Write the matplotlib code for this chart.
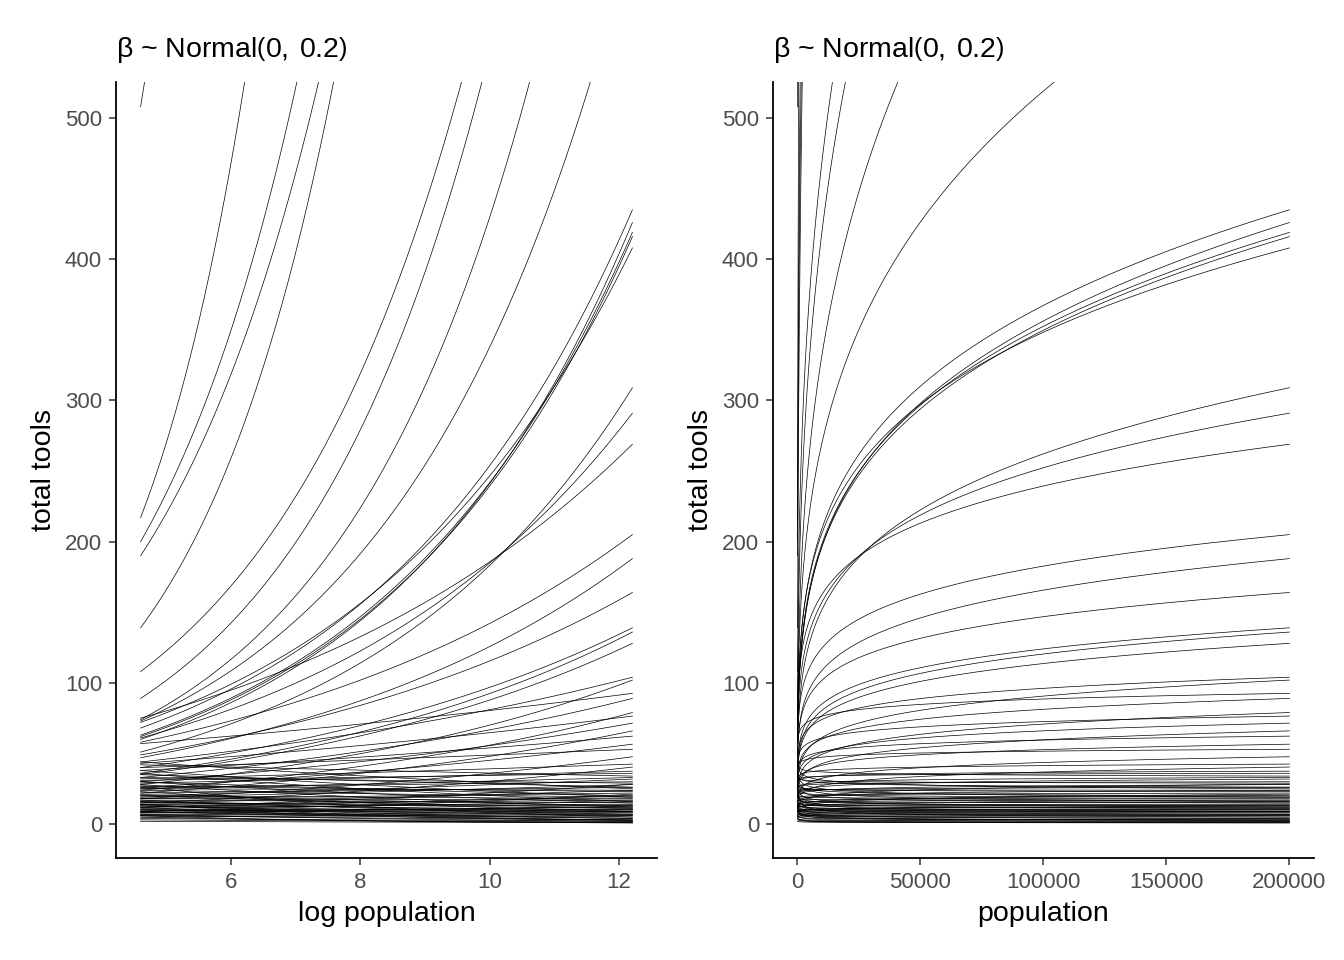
import numpy as np
import matplotlib
matplotlib.use("Agg")
import matplotlib.pyplot as plt

plt.rcParams['font.family'] = ['Liberation Sans', 'DejaVu Sans']
plt.rcParams['mathtext.fontset'] = 'custom'
plt.rcParams['mathtext.rm'] = 'Liberation Sans'

# Prior predictive curves: lambda = exp(a + b * log_pop)
# each curve given by expected total tools at log pop = log(100) and log pop = log(200000)
log_pop_min = np.log(100)
log_pop_max = np.log(200000)

tools_at_min = [508, 217, 200, 190, 139, 108, 89, 74, 73,
                68, 60, 63, 62, 72,
                51, 61, 75,
                58, 47, 49, 40, 36,
                35, 44, 28, 57, 33, 24, 43, 30, 22, 38, 26, 40, 18, 32, 15, 29,
                42, 20, 12, 35, 25, 9, 38, 14, 30, 8, 20, 16, 10, 27, 14, 6,
                12, 10, 8, 15, 18, 6, 4, 9, 13, 11, 7, 5, 16, 20, 22, 14, 3, 10,
                12, 8, 17, 19, 24, 25, 21, 6, 9, 13, 2, 11, 15, 27, 30, 33, 36,
                26, 23, 14, 7, 17, 28, 5, 31, 12, 18, 44]
tools_at_max = [33200, 14200, 4180, 3160, 4120, 1220, 1150, 882, 632,
                435, 426, 419, 416, 408,
                309, 291, 269,
                205, 188, 164, 139, 136,
                128, 104, 102, 92.6, 89, 79, 76.5, 71.5, 66, 62.3, 56.6, 53,
                47.7, 42.5, 40.4, 37.5, 34, 31.9, 28.3, 26.2, 24, 21.2, 19.1,
                17, 14.9, 12.7, 11.3, 8.5, 7, 5, 2.8, 0.8,
                14, 9, 6, 13, 22, 3, 2, 12, 8, 16, 5, 7, 11, 18, 26, 10, 1.5, 4,
                20, 10, 15, 28, 19, 33, 13, 9, 3, 6, 1, 11, 24, 23, 20, 29, 16,
                30, 9, 4, 2, 7, 12, 1, 36, 2.5, 17, 25]

y_ticks = [0, 100, 200, 300, 400, 500]
x_ticks_left = [6, 8, 10, 12]
x_ticks_right = [0, 50000, 100000, 150000, 200000]
title_text = r"β ~ Normal$\left(\mathrm{0,\,0.2}\right)$"

s = np.array(tools_at_min, dtype=float)
e = np.array(tools_at_max, dtype=float)
b = np.log(e / s) / (log_pop_max - log_pop_min)
a = np.log(s) - b * log_pop_min
x_seq = np.linspace(log_pop_min, log_pop_max, 400)

fig = plt.figure(figsize=(13.44, 9.6), dpi=100)
axL = fig.add_axes([116/1344, 1-858/960, 541/1344, 776/960])
axR = fig.add_axes([773/1344, 1-858/960, 541/1344, 776/960])

for ai, bi in zip(a, b):
    lam = np.exp(ai + bi * x_seq)
    axL.plot(x_seq, lam, color='black', lw=0.5)
    axR.plot(np.exp(x_seq), lam, color='black', lw=0.5)

def style(ax):
    for sp in ['top', 'right']:
        ax.spines[sp].set_visible(False)
    for sp in ['left', 'bottom']:
        ax.spines[sp].set_linewidth(1.3)
        ax.spines[sp].set_color('black')
    ax.tick_params(axis='both', length=5, width=1.1, color='#333333',
                   labelcolor='#4d4d4d', labelsize=16, pad=5)
    ax.set_ylim(-24, 525.5)
    ax.set_yticks(y_ticks)
    ax.set_ylabel('total tools', fontsize=20.5, labelpad=6)
    ax.set_title(title_text, loc='left', fontsize=20.5, pad=18)

style(axL)
style(axR)

rngL = log_pop_max - log_pop_min
axL.set_xlim(log_pop_min - 0.05*rngL, log_pop_max + 0.05*rngL)
axL.set_xticks(x_ticks_left)
axL.set_xlabel('log population', fontsize=20.5, labelpad=6)

rngR = 200000 - 100
axR.set_xlim(100 - 0.05*rngR, 200000 + 0.05*rngR)
axR.set_xticks(x_ticks_right)
axR.set_xticklabels([str(v) for v in x_ticks_right])
axR.set_xlabel('population', fontsize=20.5, labelpad=6)

fig.savefig('out.png', dpi=100)
